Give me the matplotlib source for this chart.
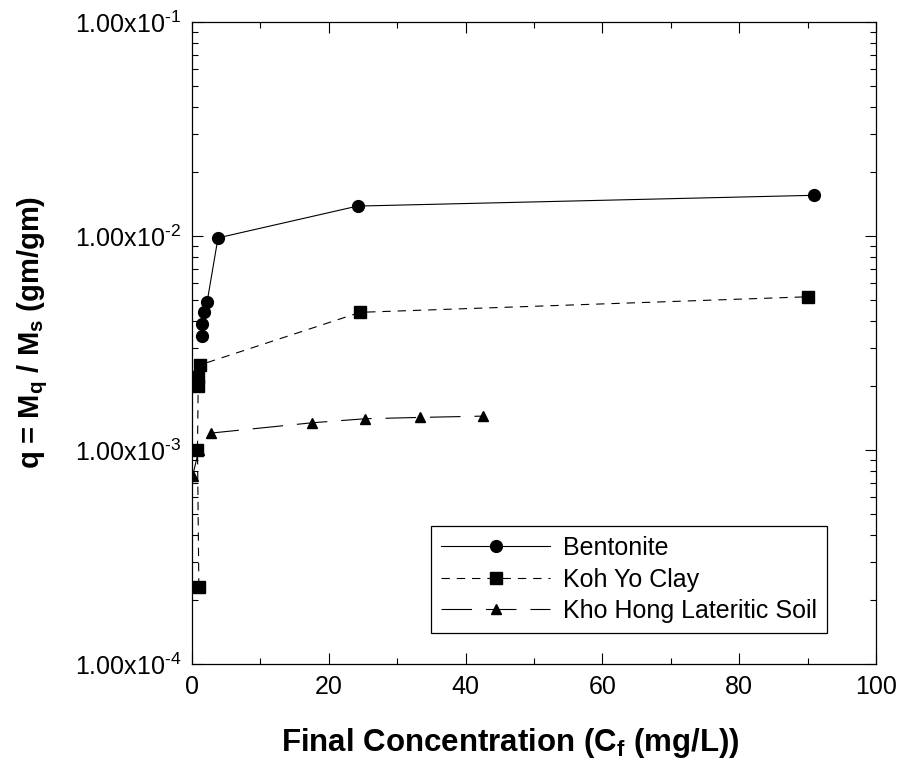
import matplotlib
matplotlib.use('Agg')
import matplotlib.pyplot as plt
from matplotlib.ticker import MultipleLocator, LogLocator, FixedLocator, FixedFormatter, NullFormatter

plt.rcParams['font.family'] = ['Liberation Sans', 'DejaVu Sans']
plt.rcParams['mathtext.fontset'] = 'custom'
plt.rcParams['mathtext.rm'] = 'Liberation Sans'
plt.rcParams['mathtext.bf'] = 'Liberation Sans:bold'
plt.rcParams['lines.scale_dashes'] = False

# data
bent_x = [1.5, 1.5, 1.75, 2.2, 3.8, 24.2, 91.0]
bent_y = [0.0034, 0.0039, 0.0044, 0.0049, 0.0098, 0.0138, 0.0155]

koh_x = [1.0, 0.8, 0.9, 0.9, 1.2, 24.6, 90.0]
koh_y = [0.00023, 0.0010, 0.0020, 0.0022, 0.0025, 0.0044, 0.0052]

kho_x = [0.1, 1.0, 2.8, 17.5, 25.3, 33.3, 42.5]
kho_y = [0.00076, 0.0010, 0.0012, 0.00134, 0.0014, 0.00142, 0.00144]

y_ticks = [1e-4, 1e-3, 1e-2, 1e-1]
y_tick_labels = [r'$\mathregular{1.00x10^{\text{-}4}}$', r'$\mathregular{1.00x10^{\text{-}3}}$',
                 r'$\mathregular{1.00x10^{\text{-}2}}$', r'$\mathregular{1.00x10^{\text{-}1}}$']

fig = plt.figure(figsize=(9.04, 7.62), dpi=100)
ax = fig.add_axes([0.2124, 0.1286, 0.7566, 0.8425])

ax.plot(bent_x, bent_y, color='black', lw=0.8, marker='o', ms=8.5, label='Bentonite')
ax.plot(koh_x, koh_y, color='black', lw=0.8, marker='s', ms=8,
        dashes=(6, 5), label='Koh Yo Clay')
ax.plot(kho_x, kho_y, color='black', lw=0.8, marker='^', ms=7,
        dashes=(22, 10), label='Kho Hong Lateritic Soil')

ax.set_yscale('log')
ax.set_xlim(0, 100)
ax.set_ylim(1e-4, 1e-1)
ax.xaxis.set_major_locator(MultipleLocator(20))
ax.xaxis.set_minor_locator(MultipleLocator(10))
ax.yaxis.set_major_locator(FixedLocator(y_ticks))
ax.yaxis.set_major_formatter(FixedFormatter(y_tick_labels))
ax.yaxis.set_minor_locator(LogLocator(base=10, subs=range(2, 10)))
ax.yaxis.set_minor_formatter(NullFormatter())

ax.tick_params(which='both', direction='in', top=True, right=True, labelsize=18, width=0.8)
ax.tick_params(which='major', length=8, pad=8)
ax.tick_params(which='minor', length=4.5)
for s in ax.spines.values():
    s.set_linewidth(0.9)

ax.set_xlabel(r'Final Concentration (C$_\mathbf{f}$ (mg/L))', fontsize=22.5, fontweight='bold')
ax.set_ylabel(r'q = M$_\mathbf{q}$ / M$_\mathbf{s}$ (gm/gm)', fontsize=21, fontweight='bold')
ax.xaxis.set_label_coords(0.465, -0.097)
ax.yaxis.set_label_coords(-0.208, 0.516)

leg = ax.legend(loc='lower right', bbox_to_anchor=(0.928, 0.048), borderaxespad=0,
                fontsize=18, handlelength=4.35, handletextpad=0.5,
                fancybox=False, framealpha=1, edgecolor='black',
                borderpad=0.4, labelspacing=0.3)
leg.get_frame().set_linewidth(0.9)

fig.savefig('out.png', dpi=100)
